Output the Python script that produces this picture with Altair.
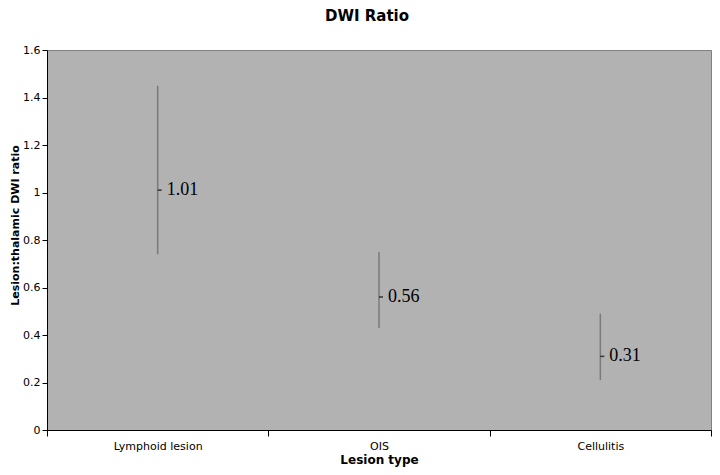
import altair as alt
import pandas as pd

categories = ["Lymphoid lesion", "OIS", "Cellulitis"]
means = [1.01, 0.56, 0.31]
lows = [0.74, 0.43, 0.21]
highs = [1.45, 0.75, 0.49]
labels = ["1.01", "0.56", "0.31"]

df = pd.DataFrame({"cat": categories, "mean": means, "low": lows, "high": highs, "label": labels})

x_enc = alt.X("cat:N", sort=categories, title="Lesion type",
              scale=alt.Scale(paddingInner=0, paddingOuter=0),
              axis=alt.Axis(labelAngle=0, tickBand="extent", labelFont="DejaVu Sans",
                            labelFontSize=11, labelColor="black", titleFont="DejaVu Sans",
                            titleFontSize=12, titleFontWeight="bold", titleColor="black",
                            domainColor="black", tickColor="black", tickSize=6,
                            labelPadding=4, titlePadding=3, grid=False))
y_scale = alt.Scale(domain=[0, 1.6], nice=False)

rules = alt.Chart(df).mark_rule(color="#7a7a7a", strokeWidth=1.5).encode(
    x=x_enc,
    y=alt.Y("low:Q", scale=y_scale, title="Lesion:thalamic DWI ratio",
            axis=alt.Axis(values=[0, 0.2, 0.4, 0.6, 0.8, 1, 1.2, 1.4, 1.6], format="~g",
                          labelFont="DejaVu Sans", labelFontSize=11, labelColor="black",
                          titleFont="DejaVu Sans", titleFontSize=11, titleFontWeight="bold",
                          titleColor="black", domainColor="black", tickColor="black",
                          tickSize=5, labelPadding=2, titlePadding=2, titleY=175, grid=False)),
    y2="high:Q",
)

ticks = alt.Chart(df).mark_tick(orient="horizontal", size=4, thickness=1.5, color="black", xOffset=2).encode(
    x=alt.X("cat:N", sort=categories),
    y=alt.Y("mean:Q", scale=y_scale),
)

texts = alt.Chart(df).mark_text(align="left", baseline="middle", dx=9, font="Liberation Serif",
                                fontSize=18, color="black").encode(
    x=alt.X("cat:N", sort=categories),
    y=alt.Y("mean:Q", scale=y_scale),
    text="label:N",
)

chart = alt.layer(rules, ticks, texts).properties(
    width=664, height=380,
    title=alt.TitleParams("DWI Ratio", font="DejaVu Sans", fontSize=15, fontWeight="bold",
                          color="black", offset=20, dx=-12),
    autosize=alt.AutoSizeParams(type="none"),
    padding={"left": 39, "top": 42, "right": 1, "bottom": 37},
).configure_view(fill="#b2b2b2", stroke="#808080", strokeWidth=1)

chart.save("out.html", embed_options={"renderer": "svg", "actions": False})
